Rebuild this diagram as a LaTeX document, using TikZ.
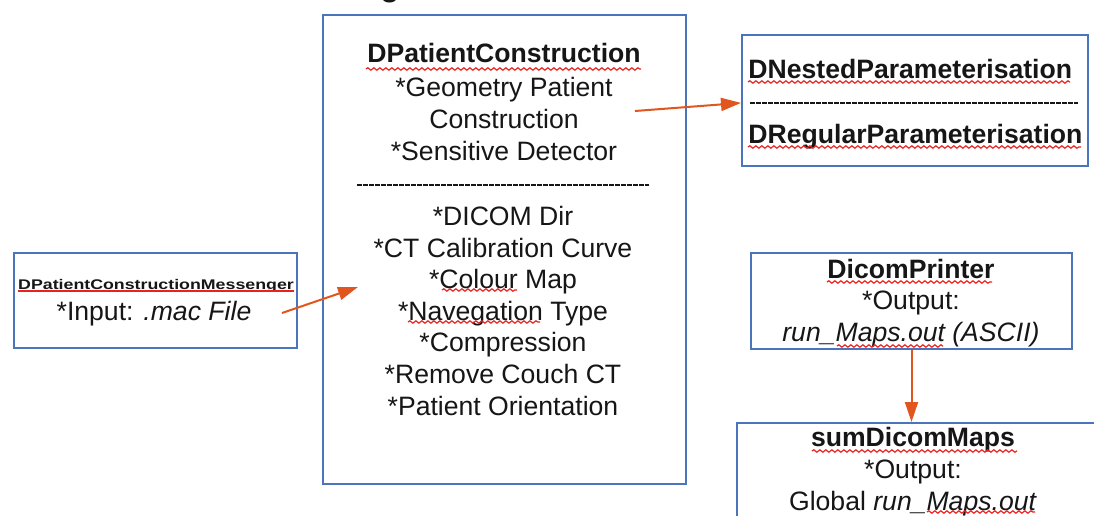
\documentclass[tikz,border=0pt]{standalone}
\usepackage{fontspec}
\setmainfont{Liberation Sans}
\usepackage{graphicx}
\usetikzlibrary{arrows.meta,fit,decorations.pathmorphing}
\definecolor{boxblue}{HTML}{4A74BC}
\definecolor{arrorange}{HTML}{E0561E}
\definecolor{spellred}{HTML}{E8231F}
\definecolor{ink}{HTML}{161616}

\tikzset{
  classbox/.style={draw=boxblue, line width=1pt, inner sep=0pt},
  conn/.style={draw=arrorange, line width=1pt,
    -{Triangle[length=10pt,width=6.5pt,fill=arrorange]}},
  txt/.style={font=\fontsize{13.3}{15.8}\selectfont, text=ink, align=center, inner sep=0pt},
  sepline/.style={draw=ink, line width=1.3pt, dash pattern=on 2.4pt off 0.6pt},
  spell/.style={draw=spellred, line width=0.6pt, decorate,
    decoration={snake, amplitude=0.6pt, segment length=3pt}},
}

\begin{document}
\begin{tikzpicture}[x=0.5pt,y=-0.5pt]
\useasboundingbox (0,0) rectangle (1094,515);
\fill[white] (0,0) rectangle (1094,515);

% descender of a heading above the frame
\node[font=\fontsize{18}{20}\selectfont, text=ink, inner sep=0pt, anchor=base] (head) at (390,-5) {g};

% class boxes
\node[classbox, fit={(323,15) (686,484)}] (main) {};
\node[classbox, fit={(14,253) (297,348)}] (msg) {};
\node[classbox, fit={(742,35) (1088,166)}] (params) {};
\node[classbox, fit={(751,253) (1072,349)}] (printer) {};
\node[classbox, fit={(737,423) (1110,530)}] (sum) {};

% DPatientConstruction (multi-line nodes are placed by the baseline of their last line)
\node[txt, anchor=base] (pctop) at (504,160)
  {\textbf{DPatientConstruction}\\[1.5pt]
   *Geometry Patient\\ Construction\\ *Sensitive Detector};
\draw[sepline] (357,185) -- (649,185);
\node[txt, anchor=base] (pcbottom) at (503,415)
  {*DICOM Dir\\ *CT Calibration Curve\\ *Colour Map\\ *Navegation Type\\
   *Compression\\ *Remove Couch CT\\ *Patient Orientation};

% DPatientConstructionMessenger
\node[txt, anchor=base, font=\fontsize{7}{8}\selectfont\bfseries] (msgtitle) at (156,289)
  {\scalebox{1.27}[1]{DPatientConstructionMessenger}};
\draw[spellred, line width=0.8pt] (18,291) -- (294,291);
\node[txt, anchor=base] (msginput) at (154,320) {*Input: \textit{.mac File}};

% parameterisations
\node[txt, anchor=base west, font=\fontsize{13.3}{15.8}\selectfont\bfseries] (nested) at (748,78) {DNestedParameterisation};
\draw[sepline] (750,103) -- (1078,103);
\node[txt, anchor=base west, font=\fontsize{13.3}{15.8}\selectfont\bfseries] (regular) at (748,143) {DRegularParameterisation};

% DicomPrinter
\node[txt, anchor=base] (printertext) at (911,341)
  {\textbf{DicomPrinter}\\[-0.3pt] *Output:\\ \textit{run\_Maps.out (ASCII)}};

% sumDicomMaps
\node[txt, anchor=base] (sumtext) at (913,510)
  {\textbf{sumDicomMaps}\\ *Output:\\ Global \textit{run\_Maps.out}};

% spell-check underlines
\draw[spell] (366,69) -- (641,69);
\draw[spell] (748,82) -- (1070,82);
\draw[spell] (748,147) -- (1081,147);
\draw[spell] (442,290) -- (517,290);
\draw[spell] (408,322) -- (540,322);
\draw[spell] (827,282) -- (992,282);
\draw[spell] (837,346) -- (943,346);
\draw[spell] (812,451) -- (1017,451);
\draw[spell] (927,512) -- (1035,512);

% connectors
\coordinate (gpc) at (635,111);
\coordinate (msgout) at (282,313);
\coordinate (mainin) at (358,287);
\draw[conn] (gpc) -- ([yshift=-1.2pt]params.west);
\draw[conn] (msgout) -- (mainin);
\draw[conn] (printer.south) -- (printer.south |- sum.north);
\end{tikzpicture}
\end{document}
